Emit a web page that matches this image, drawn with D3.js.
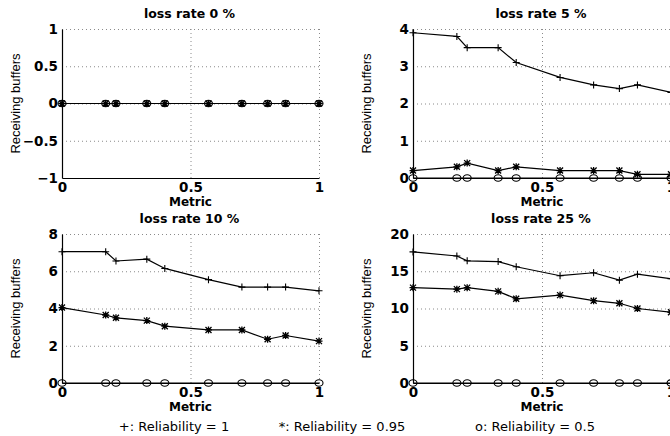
<!DOCTYPE html>
<html>
<head>
<meta charset="utf-8">
<script src="https://cdn.jsdelivr.net/npm/d3@7"></script>
<style>
  body { margin: 0; background: #fff; }
  svg { display: block; }
  .tick text { font-family: "DejaVu Sans", sans-serif; font-weight: bold; font-size: 13.5px; fill: #000; }
  .grid line { stroke: #8a8a8a; stroke-width: 1; stroke-dasharray: 1,3; }
  .grid .domain { display: none; }
  .axis .domain { stroke: #000; stroke-width: 1.2; }
</style>
</head>
<body>
<script>
// x values shared by every panel
const metric = [0, 0.17, 0.21, 0.33, 0.4, 0.57, 0.7, 0.8, 0.87, 1];

const titles = ["loss rate 0 %", "loss rate 5 %", "loss rate 10 %", "loss rate 25 %"];

// one row per panel (loss 0, 5, 10, 25 %)
const relOne = [
    [0, 0, 0, 0, 0, 0, 0, 0, 0, 0],
    [3.9, 3.8, 3.5, 3.5, 3.1, 2.7, 2.5, 2.4, 2.5, 2.3],
    [7.05, 7.05, 6.55, 6.65, 6.15, 5.55, 5.15, 5.15, 5.15, 4.95],
    [17.6, 17.05, 16.4, 16.3, 15.6, 14.4, 14.8, 13.8, 14.6, 14.0]
];
const relNinetyFive = [
    [0, 0, 0, 0, 0, 0, 0, 0, 0, 0],
    [0.2, 0.3, 0.4, 0.2, 0.3, 0.2, 0.2, 0.2, 0.1, 0.1],
    [4.05, 3.65, 3.5, 3.35, 3.05, 2.85, 2.85, 2.35, 2.55, 2.25],
    [12.8, 12.6, 12.8, 12.3, 11.3, 11.8, 11.05, 10.7, 10.0, 9.5]
];
const relHalf = [
    [0, 0, 0, 0, 0, 0, 0, 0, 0, 0],
    [0, 0, 0, 0, 0, 0, 0, 0, 0, 0],
    [0, 0, 0, 0, 0, 0, 0, 0, 0, 0],
    [0, 0, 0, 0, 0, 0, 0, 0, 0, 0]
];

const yDomains = [[-1, 1], [0, 4], [0, 8], [0, 20]];
const yTicks = [[-1, -0.5, 0, 0.5, 1], [0, 1, 2, 3, 4], [0, 2, 4, 6, 8], [0, 5, 10, 15, 20]];
const xTicks = [0, 0.5, 1];
const legendLabels = ["+: Reliability = 1", "*: Reliability = 0.95", "o: Reliability = 0.5"];

// panel boxes in pixels
const panels = [
    { x0: 62, x1: 319, y0: 29, y1: 178 },
    { x0: 413, x1: 671, y0: 29, y1: 178 },
    { x0: 62, x1: 319, y0: 234, y1: 383 },
    { x0: 413, x1: 671, y0: 234, y1: 383 }
];

const svg = d3.select("body").append("svg")
    .attr("width", 670)
    .attr("height", 436);

const fmt = d => String(d).replace("-", "\u2212");

const plusPath = (cx, cy) => `M${cx - 3.5},${cy}h7M${cx},${cy - 3.5}v7`;
const starPath = (cx, cy) => plusPath(cx, cy) + `M${cx - 3},${cy - 3}l6,6M${cx - 3},${cy + 3}l6,-6`;

panels.forEach((p, i) => {
    const x = d3.scaleLinear().domain([0, 1]).range([p.x0, p.x1]);
    const y = d3.scaleLinear().domain(yDomains[i]).range([p.y1, p.y0]);
    const g = svg.append("g");

    // dotted grid
    g.append("g").attr("class", "grid")
        .attr("transform", `translate(0,${p.y1})`)
        .call(d3.axisBottom(x).tickValues(xTicks.slice(1)).tickSize(-(p.y1 - p.y0)).tickFormat(""));
    g.append("g").attr("class", "grid")
        .attr("transform", `translate(${p.x0},0)`)
        .call(d3.axisLeft(y).tickValues(yTicks[i].slice(1)).tickSize(-(p.x1 - p.x0)).tickFormat(""));

    // axes
    g.append("g").attr("class", "axis")
        .attr("transform", `translate(0,${p.y1})`)
        .call(d3.axisBottom(x).tickValues(xTicks).tickSize(0).tickPadding(4).tickFormat(fmt));
    g.append("g").attr("class", "axis")
        .attr("transform", `translate(${p.x0},0)`)
        .call(d3.axisLeft(y).tickValues(yTicks[i]).tickSize(0).tickPadding(4).tickFormat(fmt));

    // titles and labels
    g.append("text")
        .attr("x", (p.x0 + p.x1) / 2 - 1)
        .attr("y", p.y0 - 11)
        .attr("text-anchor", "middle")
        .attr("font-family", "DejaVu Sans")
        .attr("font-weight", "bold")
        .attr("font-size", "12.5px")
        .text(titles[i]);
    g.append("text")
        .attr("x", x(0.5))
        .attr("y", p.y1 + 28)
        .attr("text-anchor", "middle")
        .attr("font-family", "DejaVu Sans")
        .attr("font-weight", "bold")
        .attr("font-size", "12px")
        .text("Metric");
    g.append("text")
        .attr("transform", "rotate(-90)")
        .attr("x", -(p.y0 + p.y1) / 2)
        .attr("y", p.x0 - 42)
        .attr("text-anchor", "middle")
        .attr("font-family", "Liberation Sans, Arial, sans-serif")
        .attr("font-size", "13px")
        .text("Receiving buffers");

    // series
    const line = d3.line().x((d, j) => x(metric[j])).y(d => y(d));
    [relHalf[i], relNinetyFive[i], relOne[i]].forEach(vals => {
        g.append("path")
            .attr("d", line(vals))
            .attr("fill", "none")
            .attr("stroke", "#000")
            .attr("stroke-width", 1.2);
    });

    g.selectAll(".m-o").data(relHalf[i]).join("ellipse")
        .attr("cx", (d, j) => x(metric[j]))
        .attr("cy", d => y(d))
        .attr("rx", 4).attr("ry", 3.2)
        .attr("fill", "none").attr("stroke", "#000").attr("stroke-width", 1.1);
    g.selectAll(".m-star").data(relNinetyFive[i]).join("path")
        .attr("d", (d, j) => starPath(x(metric[j]), y(d)))
        .attr("fill", "none").attr("stroke", "#000").attr("stroke-width", 1.3);
    g.selectAll(".m-plus").data(relOne[i]).join("path")
        .attr("d", (d, j) => plusPath(x(metric[j]), y(d)))
        .attr("fill", "none").attr("stroke", "#000").attr("stroke-width", 1.1);
});

// legend line
const legendX = [174, 342, 535];
svg.selectAll(".legend").data(legendLabels).join("text")
    .attr("x", (d, i) => legendX[i])
    .attr("y", 431)
    .attr("text-anchor", "middle")
    .attr("font-family", "DejaVu Sans")
    .attr("font-size", "13px")
    .text(d => d);
</script>
</body>
</html>
